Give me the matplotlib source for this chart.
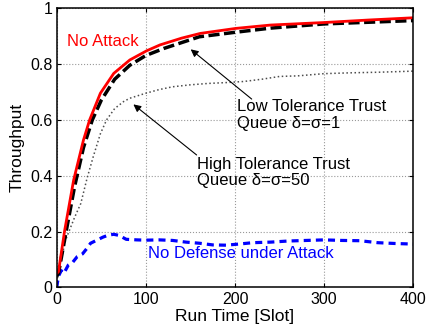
import matplotlib
matplotlib.use("Agg")
import matplotlib.pyplot as plt

plt.rcParams['font.family'] = ['Liberation Sans', 'DejaVu Sans']

# throughput vs slot, one series per scenario
x_no_attack = [0, 2, 9, 19, 30, 37, 49, 64, 82, 101, 116, 140, 161, 201, 240, 300, 350, 400]
y_no_attack = [0.05, 0.056, 0.205, 0.384, 0.527, 0.60, 0.695, 0.766, 0.814, 0.847, 0.868, 0.892,
               0.909, 0.927, 0.939, 0.948, 0.957, 0.965]

x_low_tol = [0, 2, 10, 20, 30, 40, 50, 65, 82, 100, 120, 160, 200, 240, 300, 350, 400]
y_low_tol = [0.04, 0.05, 0.19, 0.36, 0.50, 0.60, 0.67, 0.745, 0.795, 0.83, 0.855, 0.897,
             0.913, 0.928, 0.943, 0.949, 0.955]

x_high_tol = [0, 5, 10, 15, 20, 27, 34, 41, 49, 56, 65, 75, 82, 90, 100, 115, 130, 150, 170,
              190, 210, 230, 250, 270, 300, 330, 360, 400]
y_high_tol = [0.02, 0.10, 0.17, 0.21, 0.25, 0.30, 0.39, 0.468, 0.55, 0.60, 0.64, 0.665, 0.677,
              0.685, 0.695, 0.708, 0.718, 0.725, 0.730, 0.733, 0.737, 0.745, 0.755, 0.757,
              0.765, 0.768, 0.770, 0.774]

x_no_def = [0, 2, 5, 8, 13, 18, 23, 29, 34, 38, 45, 52, 58, 64, 70, 78, 90, 100, 115, 130, 145,
            160, 175, 190, 204, 220, 240, 260, 280, 300, 320, 340, 360, 380, 400]
y_no_def = [0.0, 0.04, 0.06, 0.05, 0.08, 0.09, 0.11, 0.12, 0.14, 0.158, 0.169, 0.18, 0.187,
            0.19, 0.186, 0.172, 0.17, 0.169, 0.17, 0.168, 0.162, 0.158, 0.152, 0.151, 0.155,
            0.16, 0.162, 0.166, 0.168, 0.17, 0.168, 0.167, 0.16, 0.157, 0.155]

x_ticks = [0, 100, 200, 300, 400]
y_ticks = [0, 0.2, 0.4, 0.6, 0.8, 1]
y_tick_labels = ['0', '0.2', '0.4', '0.6', '0.8', '1']

fig = plt.figure(figsize=(4.27, 3.33), dpi=100)
ax = fig.add_axes([0.1328, 0.137, 0.8352, 0.839])

ax.plot(x_high_tol, y_high_tol, ':', color='0.3', lw=1.1)
ax.plot(x_no_def, y_no_def, '--', color='#0000ff', lw=2.3, dashes=(2.2, 1.6))
ax.plot(x_low_tol, y_low_tol, '--', color='k', lw=2.5, dashes=(3.2, 1.3))
ax.plot(x_no_attack, y_no_attack, '-', color='#ff0000', lw=2)

ax.set_xlim(0, 400)
ax.set_ylim(0, 1)
ax.set_xticks(x_ticks)
ax.set_yticks(y_ticks)
ax.set_yticklabels(y_tick_labels)
ax.tick_params(direction='in', top=True, right=True, labelsize=11.5, length=3, pad=3)
ax.grid(True, linestyle=':', color='0.6', lw=0.8)
for sp in ax.spines.values():
    sp.set_linewidth(1.1)

ax.set_xlabel('Run Time [Slot]', fontsize=12.5, labelpad=2)
ax.set_ylabel('Throughput', fontsize=12.5, labelpad=4)

ax.text(11.6, 0.88, 'No Attack', color='#ff0000', fontsize=12, va='center')
ax.text(102.6, 0.123, 'No Defense under Attack', color='#0000ff', fontsize=12, va='center')

arrow = dict(arrowstyle='-|>', color='k', lw=0.8, mutation_scale=11, shrinkA=0, shrinkB=0)
ax.annotate('', xy=(150.3, 0.852), xytext=(218.7, 0.674), arrowprops=arrow)
ax.annotate('', xy=(86, 0.655), xytext=(156.9, 0.474), arrowprops=arrow)
ax.text(202, 0.675, 'Low Tolerance Trust\nQueue δ=σ=1', fontsize=12, va='top', linespacing=1.15)
ax.text(157.5, 0.468, 'High Tolerance Trust\nQueue δ=σ=50', fontsize=12, va='top', linespacing=1.15)

fig.savefig('out.png', dpi=100)
